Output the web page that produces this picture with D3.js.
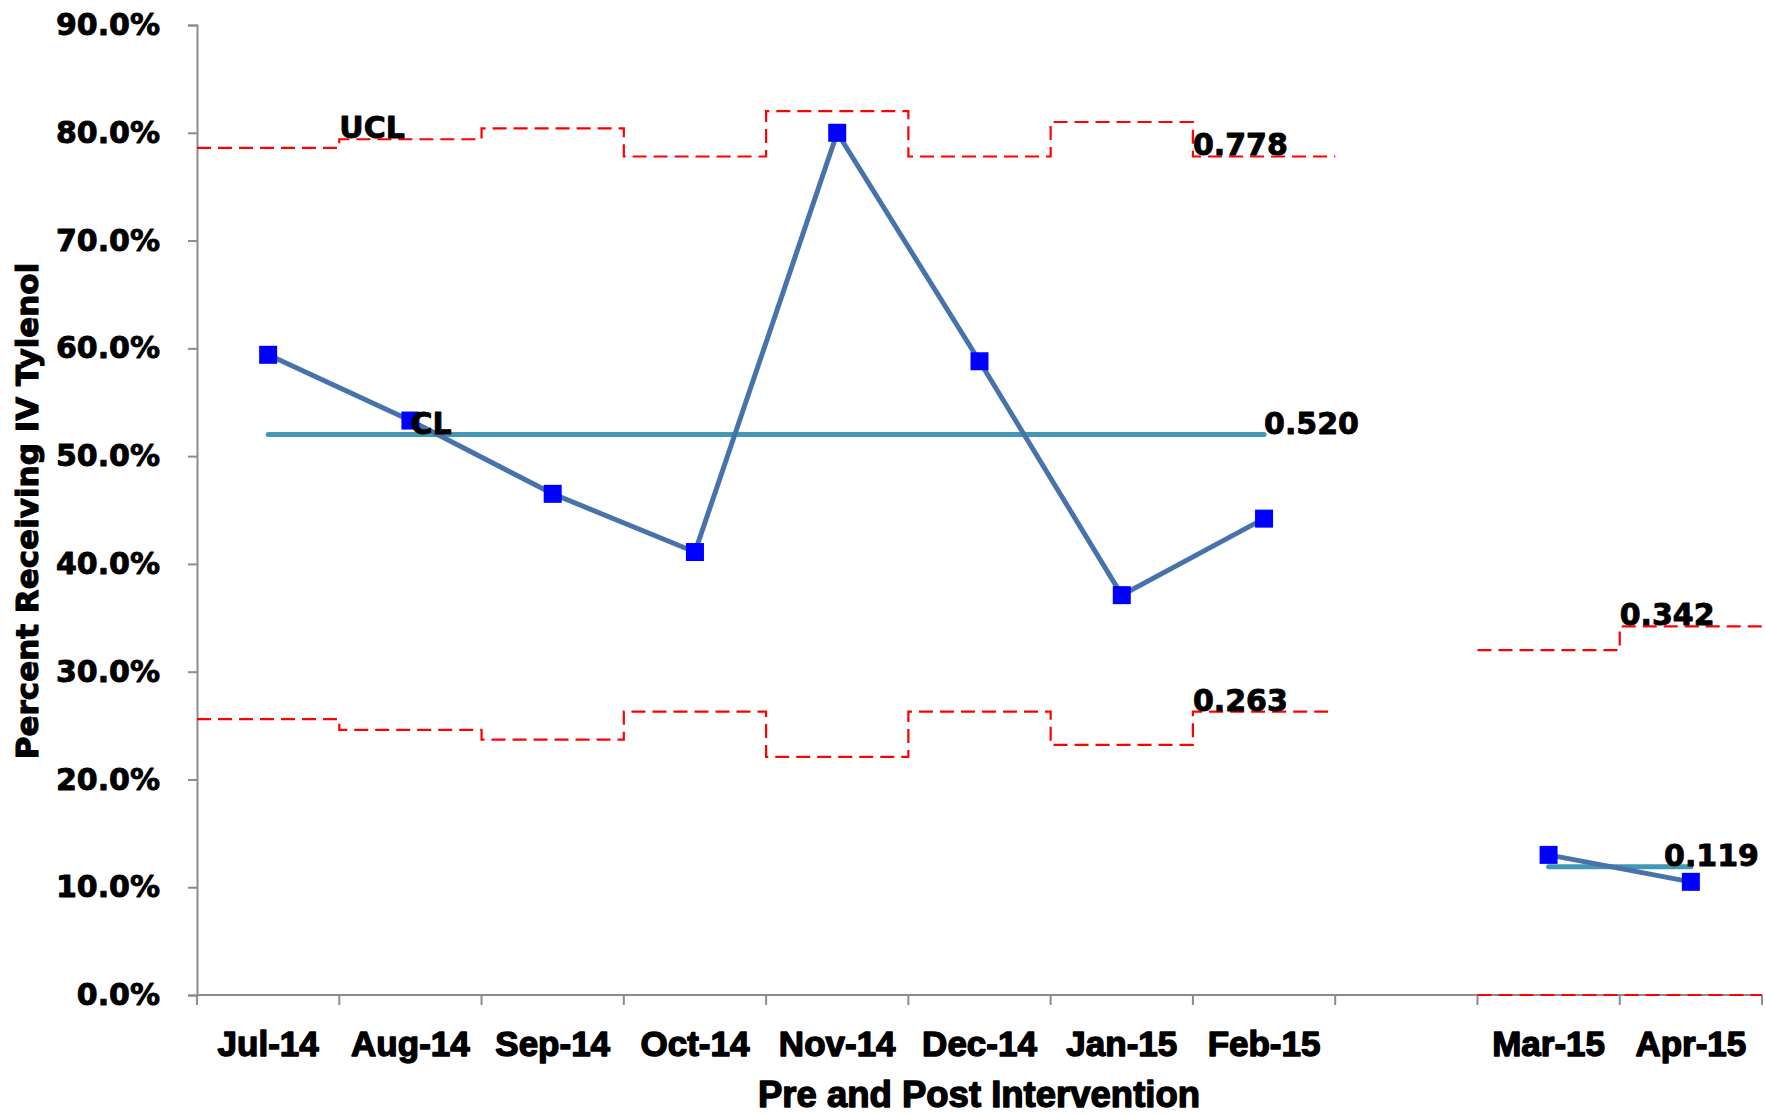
<!DOCTYPE html>
<html>
<head>
<meta charset="utf-8">
<script src="https://cdn.jsdelivr.net/npm/d3@7"></script>
<style>
  html, body { margin: 0; padding: 0; background: #fff; }
  svg { display: block; }
</style>
</head>
<body>
<svg id="chart" width="1765" height="1114"></svg>
<script>
// Monthly p-chart: share of patients receiving IV Tylenol, before and after the intervention.
const categories = ["Jul-14", "Aug-14", "Sep-14", "Oct-14", "Nov-14", "Dec-14", "Jan-15", "Feb-15", "", "Mar-15", "Apr-15"];
const percentValues = [0.594, 0.533, 0.465, 0.411, 0.800, 0.588, 0.371, 0.442, null, 0.130, 0.105];
const centerLine = [0.520, 0.520, 0.520, 0.520, 0.520, 0.520, 0.520, 0.520, null, 0.119, 0.119];
const upperLimit = [0.786, 0.794, 0.804, 0.778, 0.820, 0.778, 0.810, 0.778, null, 0.320, 0.342];
const lowerLimit = [0.256, 0.246, 0.237, 0.263, 0.221, 0.263, 0.232, 0.263, null, 0.000, 0.000];
const yTicks = [0, 0.1, 0.2, 0.3, 0.4, 0.5, 0.6, 0.7, 0.8, 0.9];
const yTitle = "Percent Receiving IV Tylenol";
const xTitle = "Pre and Post Intervention";

const width = 1765, height = 1114;
const plot = { left: 197, right: 1762, top: 25, bottom: 995 };

const svg = d3.select("#chart");

const x = d3.scaleBand().domain(categories).range([plot.left, plot.right]).padding(0);
const y = d3.scaleLinear().domain([0, 0.9]).range([plot.bottom, plot.top]);
const cx = c => x(c) + x.bandwidth() / 2;

const axisColor = "#8c8c8c";
const wideBold = "'DejaVu Sans', sans-serif";
const arialBold = "'Liberation Sans', Arial, sans-serif";

// heavy black lettering: bold face plus a thin outline of the same colour
function heavy(sel, family, size, outline) {
  return sel
    .attr("fill", "#000")
    .attr("stroke", "#000")
    .attr("stroke-width", outline)
    .attr("stroke-linejoin", "round")
    .style("font-family", family)
    .style("font-weight", "bold")
    .style("font-size", size + "px");
}

// ---- Y axis ----
const yAxis = svg.append("g")
  .attr("transform", `translate(${plot.left},0)`)
  .call(d3.axisLeft(y).tickValues(yTicks).tickFormat(d3.format(".1%")).tickSize(9).tickPadding(28));
yAxis.select(".domain").attr("stroke", axisColor).attr("stroke-width", 2);
yAxis.selectAll(".tick line").attr("stroke", axisColor).attr("stroke-width", 2);
heavy(yAxis.selectAll(".tick text"), wideBold, 30, 0.9);

// ---- X axis: labels at category centres, ticks at category boundaries ----
const xAxis = svg.append("g")
  .attr("transform", `translate(0,${plot.bottom})`)
  .call(d3.axisBottom(x).tickSize(0).tickPadding(36));
xAxis.select(".domain").remove();
heavy(xAxis.selectAll(".tick text"), arialBold, 35, 1.4);

svg.append("line")
  .attr("x1", plot.left).attr("x2", plot.right)
  .attr("y1", plot.bottom).attr("y2", plot.bottom)
  .attr("stroke", axisColor).attr("stroke-width", 2);

const boundaries = categories.map(c => x(c)).concat([x.range()[1]]);
svg.append("g").selectAll("line")
  .data(boundaries)
  .join("line")
  .attr("x1", d => d).attr("x2", d => d)
  .attr("y1", plot.bottom).attr("y2", plot.bottom + 10)
  .attr("stroke", axisColor).attr("stroke-width", 2);

// ---- axis titles ----
heavy(svg.append("text")
  .attr("transform", `translate(38,511) rotate(-90)`)
  .attr("text-anchor", "middle"), wideBold, 31, 1.1)
  .text(yTitle);

heavy(svg.append("text")
  .attr("x", 979).attr("y", 1107)
  .attr("text-anchor", "middle"), arialBold, 36.5, 1.4)
  .text(xTitle);

// ---- control limits drawn as steps spanning each category ----
function stepPoints(values) {
  const pts = [];
  categories.forEach((c, i) => {
    const v = values[i];
    pts.push({ x: x(c), v });
    pts.push({ x: x(c) + x.bandwidth(), v });
  });
  return pts;
}
const stepLine = d3.line().defined(d => d.v !== null).x(d => d.x).y(d => y(d.v));

[upperLimit, lowerLimit].forEach(vals => {
  svg.append("path")
    .attr("d", stepLine(stepPoints(vals)))
    .attr("fill", "none")
    .attr("stroke", "#ff0000")
    .attr("stroke-width", 2.2)
    .attr("stroke-dasharray", "14,7");
});

// ---- centre line ----
const pointLine = d3.line().defined(d => d.v !== null).x(d => cx(d.c)).y(d => y(d.v));
svg.append("path")
  .attr("d", pointLine(categories.map((c, i) => ({ c, v: centerLine[i] }))))
  .attr("fill", "none")
  .attr("stroke", "#4298b4")
  .attr("stroke-width", 5)
  .attr("stroke-linecap", "round");

// ---- observed proportions ----
const series = categories.map((c, i) => ({ c, v: percentValues[i] }));
svg.append("path")
  .attr("d", pointLine(series))
  .attr("fill", "none")
  .attr("stroke", "#4872aa")
  .attr("stroke-width", 5);

const marker = 18;
svg.append("g").selectAll("rect")
  .data(series.filter(d => d.v !== null))
  .join("rect")
  .attr("x", d => cx(d.c) - marker / 2)
  .attr("y", d => y(d.v) - marker / 2)
  .attr("width", marker).attr("height", marker)
  .attr("fill", "#0000ff");

// ---- value labels ----
const fmt = d3.format(".3f");
function label(text, xPos, value) {
  const t = heavy(svg.append("text")
    .attr("x", xPos).attr("y", y(value) - 1), wideBold, 30, 0.9)
    .text(text);
  const w = t.node().getComputedTextLength();
  if (xPos + w > width - 6) t.attr("x", width - 6 - w);
  return t;
}
const lastPre = categories.indexOf("Feb-15");
const lastPost = categories.length - 1;

label("UCL", x(categories[1]), upperLimit[1]);
label("CL", cx(categories[1]), centerLine[1]);
label(fmt(upperLimit[lastPre]), x(categories[lastPre]), upperLimit[lastPre]);
label(fmt(centerLine[lastPre]), cx(categories[lastPre]), centerLine[lastPre]);
label(fmt(lowerLimit[lastPre]), x(categories[lastPre]), lowerLimit[lastPre]);
label(fmt(upperLimit[lastPost]), x(categories[lastPost]), upperLimit[lastPost]);
label(fmt(centerLine[lastPost]), cx(categories[lastPost]), centerLine[lastPost]);
</script>
</body>
</html>
